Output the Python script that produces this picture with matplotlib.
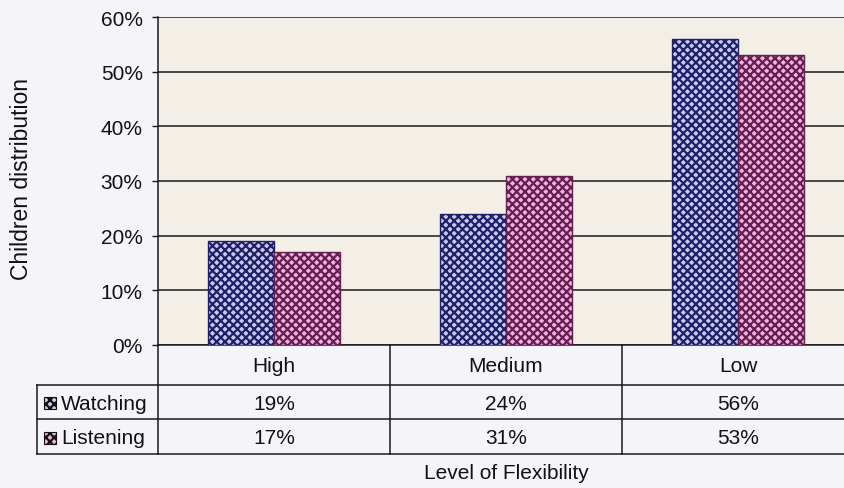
import numpy as np
import matplotlib
matplotlib.use("Agg")
import matplotlib.pyplot as plt
from matplotlib.patches import Rectangle
from matplotlib.lines import Line2D
from matplotlib.ticker import PercentFormatter

categories = ["High", "Medium", "Low"]
series_names = ["Watching", "Listening"]
watching = [19, 24, 56]
listening = [17, 31, 53]
y_ticks = [0, 10, 20, 30, 40, 50, 60]

plt.rcParams["font.family"] = ["Liberation Sans", "DejaVu Sans"]
plt.rcParams["hatch.linewidth"] = 1.6

W, H = 844, 489
fig = plt.figure(figsize=(W / 100, H / 100), dpi=100)
fig.patch.set_facecolor("#f5f5f9")


def fx(px):
    return px / W


def fy(py):
    return 1 - py / H


ax_left, ax_right, ax_top, ax_bottom = 158, 854, 18, 346
ax = fig.add_axes([fx(ax_left), fy(ax_bottom), (ax_right - ax_left) / W,
                   (ax_bottom - ax_top) / H])
ax.set_facecolor("#f3efe7")

styles = {
    "Watching": dict(face="#cacaee", dark="#20206a"),
    "Listening": dict(face="#f4b0e2", dark="#62204e"),
}
HATCH = "xxxx"

x = np.arange(len(categories))
width = 66 / 232
for offset, name, vals in ((-width / 2, "Watching", watching),
                           (width / 2, "Listening", listening)):
    st = styles[name]
    ax.bar(x + offset, vals, width, facecolor=st["face"], edgecolor=st["dark"],
           hatch=HATCH, linewidth=1.0, zorder=3)

ax.set_xlim(-0.5, len(categories) - 0.5)
ax.set_ylim(0, 60)
ax.set_yticks(y_ticks)
ax.yaxis.set_major_formatter(PercentFormatter(decimals=0))
ax.yaxis.grid(True, color="#1a1a1a", linewidth=1.1, zorder=1)
ax.set_axisbelow(True)
ax.set_xticks([])
for side in ("top", "right"):
    ax.spines[side].set_visible(False)
for side in ("left", "bottom"):
    ax.spines[side].set_color("#1a1a1a")
    ax.spines[side].set_linewidth(1.1)
ax.tick_params(axis="y", length=4, width=1, color="#1a1a1a", pad=7,
               labelsize=15, labelcolor="#111111")

fig.text(fx(22), fy(179), "Children distribution", rotation=90, ha="center",
         va="center", fontsize=16.5, color="#111111")

# data table under the plot
col_w = (ax_right - ax_left) / len(categories)
row_cat = (346, 386)
row_tops = [386, 420]
row_h = [34, 35]
table_left = 37
lc = "#1a1a1a"


def hline(y, x0, x1):
    fig.add_artist(Line2D([fx(x0), fx(x1)], [fy(y), fy(y)], color=lc, lw=1.1))


def vline(xp, y0, y1):
    fig.add_artist(Line2D([fx(xp), fx(xp)], [fy(y0), fy(y1)], color=lc, lw=1.1))


table_bottom = row_tops[-1] + row_h[-1]
hline(row_cat[1], table_left, W + 20)
hline(row_tops[1], table_left, W + 20)
hline(table_bottom, table_left, W + 20)
vline(table_left, row_cat[1], table_bottom)
for i in range(len(categories)):
    vline(ax_left + i * col_w, row_cat[0], table_bottom)

for i, cat in enumerate(categories):
    cx = ax_left + (i + 0.5) * col_w
    fig.text(fx(cx), fy(367), cat, ha="center", va="center", fontsize=15,
             color="#111111")

for r, (name, vals) in enumerate(((series_names[0], watching),
                                  (series_names[1], listening))):
    cy = row_tops[r] + row_h[r] / 2 + 1
    st = styles[name]
    fig.add_artist(Rectangle((fx(44), fy(cy + 6)), 12 / W, 12 / H,
                             facecolor=st["face"], edgecolor="#111111",
                             hatch="xxxx", linewidth=0.8,
                             transform=fig.transFigure))
    fig.text(fx(61), fy(cy), name, ha="left", va="center", fontsize=15,
             color="#111111")
    for i, v in enumerate(vals):
        cx = ax_left + (i + 0.5) * col_w
        fig.text(fx(cx), fy(cy), f"{v}%", ha="center", va="center",
                 fontsize=15, color="#111111")

fig.text(fx(506), fy(474), "Level of Flexibility", ha="center", va="center",
         fontsize=15, color="#111111")

fig.savefig("out.png", dpi=100, facecolor=fig.get_facecolor())
